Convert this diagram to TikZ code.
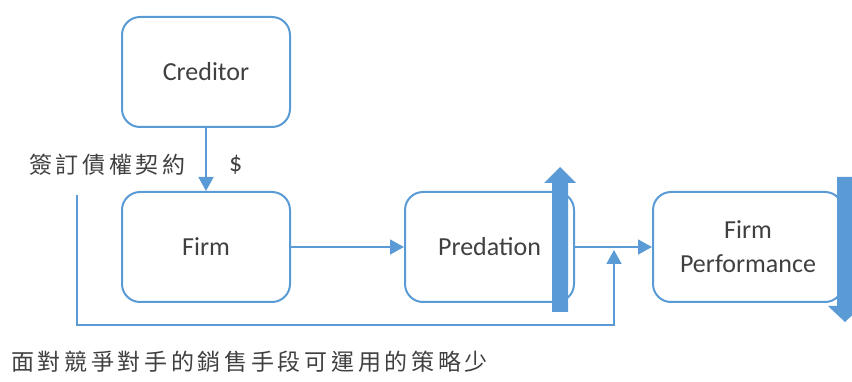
\documentclass[tikz,border=0pt]{standalone}
\usepackage{fontspec}
\setmainfont{Carlito}
\newfontfamily\cjk[LetterSpace=16]{Noto Sans CJK TC}
\usetikzlibrary{arrows.meta}
\definecolor{bl}{HTML}{5B9BD5}
\definecolor{tx}{HTML}{404040}
\tikzset{
  box/.style={draw=bl, line width=2pt, rounded corners=18pt, fill=white, text=tx,
    font=\fontsize{26}{34}\selectfont, align=center, inner sep=0pt},
  conn/.style={draw=bl, line width=1.8pt, -{Triangle[length=14pt,width=15pt]}},
  lbl/.style={text=tx, inner sep=0pt, anchor=west},
}
\begin{document}
\begin{tikzpicture}[x=1pt,y=-1pt]
\useasboundingbox (0,0) rectangle (852,382);
\node[box, minimum width=168pt, minimum height=110pt] (cred) at (206,72) {Creditor};
\node[box, minimum width=168pt, minimum height=110pt] (firm) at (206,247) {Firm};
\node[box, minimum width=169pt, minimum height=110pt] (pred) at (489.5,247) {Predation};
\node[box, minimum width=190pt, minimum height=110pt] (perf) at (748,247) {Firm\\Performance};
\draw[conn] (cred.south) -- (firm.north);
\draw[conn] (firm.east) -- (pred.west);
\draw[conn] (pred.east) -- (perf.west);
\coordinate (fbstart) at (77,195);
\coordinate (fbend) at (614,250);
\draw[conn, rounded corners=0pt] (fbstart) -- (77,325) -- (614,325) -- (fbend);
% thick arrows
\fill[bl] (552,312) -- (552,183) -- (544,183) -- (560,167) -- (576,183) -- (568,183) -- (568,312) -- cycle;
\fill[bl] (837,177) -- (837,306) -- (828,306) -- (845,322) -- (862,306) -- (853,306) -- (853,177) -- cycle;
\node[lbl, font=\cjk\fontsize{23}{28}\selectfont] (contract) at (29,165) {簽訂債權契約};
\node[lbl, font=\fontsize{26}{30}\selectfont] (dollar) at (229,165) {\$};
\node[lbl, font=\cjk\fontsize{23}{28}\selectfont] (bottom) at (11,362) {面對競爭對手的銷售手段可運用的策略少};
\end{tikzpicture}
\end{document}
